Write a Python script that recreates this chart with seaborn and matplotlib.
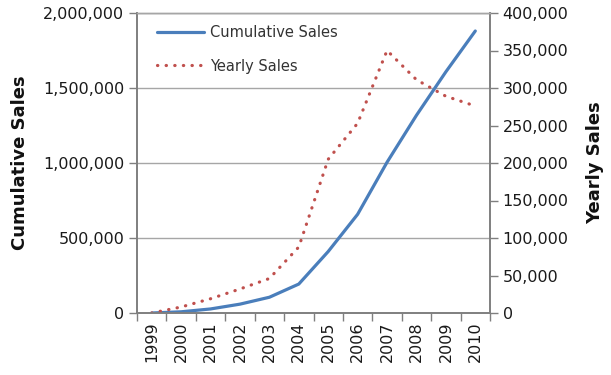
import matplotlib
matplotlib.use("Agg")
import matplotlib.pyplot as plt
import matplotlib.ticker as mticker
import seaborn as sns
import pandas as pd

years = ["1999", "2000", "2001", "2002", "2003", "2004",
         "2005", "2006", "2007", "2008", "2009", "2010"]
cumulative_sales = [0, 8000, 27000, 59000, 105000, 193000,
                    410000, 658000, 1005000, 1318000, 1608000, 1880000]
yearly_sales = [0, 8000, 19000, 32000, 46000, 88000,
                205000, 253000, 350000, 311000, 289000, 276000]
left_ticks = [0, 500000, 1000000, 1500000, 2000000]
right_ticks = [0, 50000, 100000, 150000, 200000, 250000, 300000, 350000, 400000]

sns.set_theme(style="white")
plt.rcParams["font.family"] = ["DejaVu Sans"]

df = pd.DataFrame({"Year": years, "Cumulative Sales": cumulative_sales,
                   "Yearly Sales": yearly_sales})

fig = plt.figure(figsize=(6.11, 3.75), dpi=100)
ax = fig.add_axes([137/611, 1-313/375, (490-137)/611, (313-13)/375])
ax2 = ax.twinx()

blue = "#4a7ebb"
red = "#c0504d"
spine_c = "#7f7f7f"
text_c = "#1a1a1a"

sns.lineplot(data=df, x="Year", y="Cumulative Sales", ax=ax, color=blue,
             linewidth=2.3, label="Cumulative Sales", legend=False)
sns.lineplot(data=df, x="Year", y="Yearly Sales", ax=ax2, color=red,
             linewidth=2.3, linestyle=(0, (0.1, 2.6)), label="Yearly Sales",
             legend=False)
for ln in ax2.get_lines():
    ln.set_dash_capstyle("round")

n = len(years)
ax.set_xlim(-0.5, n - 0.5)
ax.set_ylim(0, 2000000)
ax2.set_ylim(0, 400000)
ax.set_yticks(left_ticks)
ax2.set_yticks(right_ticks)
fmt = mticker.FuncFormatter(lambda v, p: f"{int(v):,}")
ax.yaxis.set_major_formatter(fmt)
ax2.yaxis.set_major_formatter(fmt)

ax.set_xticks(range(n))
ax.set_xticklabels(years, rotation=90)
ax.set_xticks([i - 0.5 for i in range(n + 1)], minor=True)
ax.tick_params(axis="x", which="major", length=0, pad=6, labelsize=11.5, colors=text_c)
ax.tick_params(axis="x", which="minor", length=6, width=1, color=spine_c, bottom=True)
ax.tick_params(axis="y", length=6, width=1, color=spine_c, labelsize=11.5,
               labelcolor=text_c, left=True, pad=3)
ax2.tick_params(axis="y", length=6, width=1, color=spine_c, labelsize=11.5,
                labelcolor=text_c, right=True, pad=3)

ax.yaxis.grid(True, color="#a6a6a6", linewidth=1)
ax.set_axisbelow(True)
ax.set_xlabel("")
ax.set_ylabel("Cumulative Sales", fontsize=13, fontweight="bold", labelpad=10,
              color="#111111")
ax2.set_ylabel("Yearly Sales", fontsize=13, fontweight="bold", labelpad=13,
               color="#111111")

for a in (ax, ax2):
    for s in ("left", "right", "bottom"):
        a.spines[s].set_color(spine_c)
        a.spines[s].set_linewidth(1.2)
    a.spines["top"].set_color("#a6a6a6")
    a.spines["top"].set_linewidth(1)

h1, l1 = ax.get_legend_handles_labels()
h2, l2 = ax2.get_legend_handles_labels()
leg = ax2.legend(h1 + h2, l1 + l2, loc="upper left", frameon=False,
                 fontsize=10.5, handlelength=3.2, handletextpad=0.45,
                 labelspacing=1.3, bbox_to_anchor=(0.02, 1.005))
for t in leg.get_texts():
    t.set_color("#333333")

fig.savefig("out.png", dpi=100)
